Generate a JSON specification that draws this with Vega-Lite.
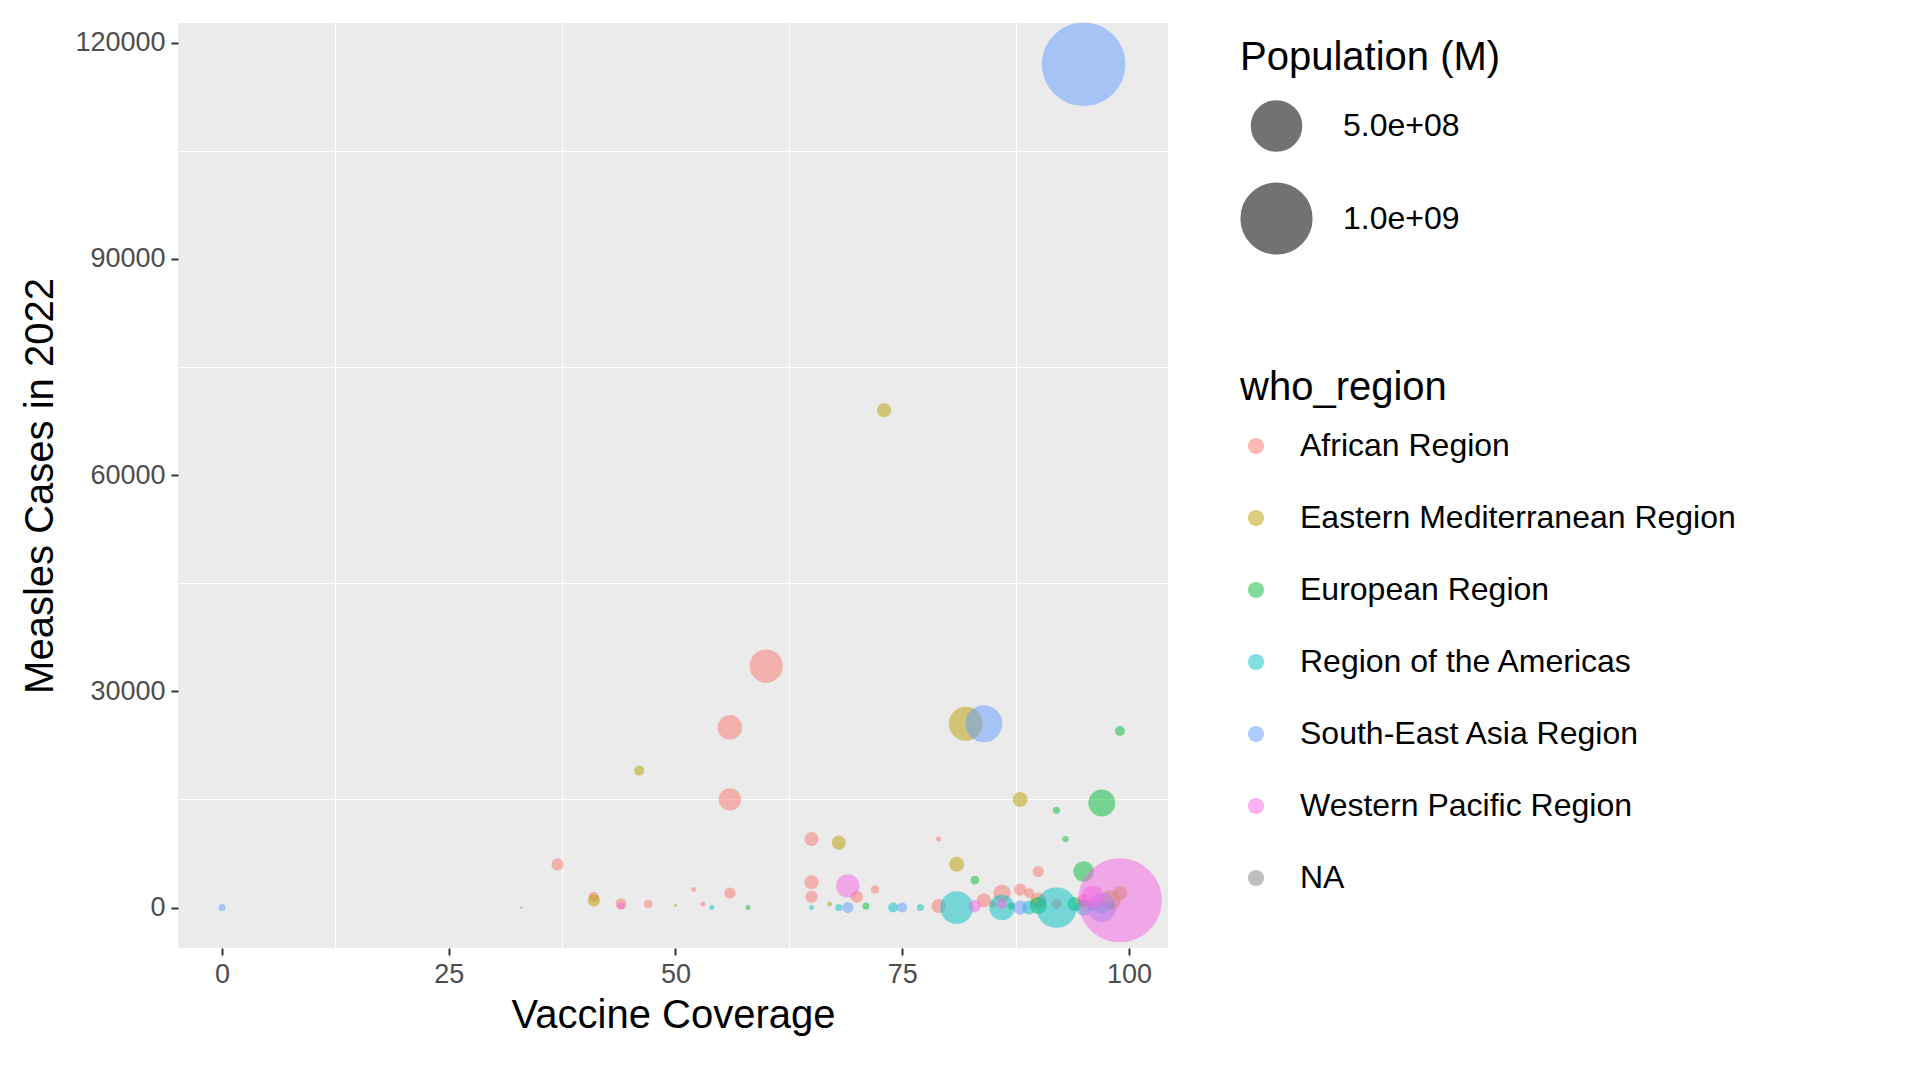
{
  "$schema": "https://vega.github.io/schema/vega-lite/v6.json",
  "width": 990,
  "height": 925,
  "padding": {"left": 20, "top": 22, "right": 10, "bottom": 10},
  "background": "white",
  "config": {
    "font": "Liberation Sans",
    "view": {"fill": "#EBEBEB", "stroke": null},
    "axis": {
      "gridColor": "white", "gridWidth": 2.4, "domain": false,
      "tickColor": "#333333", "tickSize": 7, "tickWidth": 2,
      "labelColor": "#4D4D4D", "labelFontSize": 27, "labelPadding": 6,
      "titleColor": "black", "titleFontSize": 40, "titleFontWeight": "normal"
    },
    "legend": {
      "titleFontSize": 40, "titleFontWeight": "normal", "titleColor": "black",
      "labelFontSize": 32, "labelColor": "black", "titlePadding": 22,
      "labelLimit": 0, "titleLimit": 0
    }
  },
  "data": {
    "values": [
      {"cov": 37, "cases": 6000, "pop": 30, "region": "African Region"},
      {"cov": 41, "cases": 1500, "pop": 20, "region": "African Region"},
      {"cov": 44, "cases": 500, "pop": 25, "region": "African Region"},
      {"cov": 47, "cases": 500, "pop": 15, "region": "African Region"},
      {"cov": 52, "cases": 2500, "pop": 5, "region": "African Region"},
      {"cov": 53, "cases": 500, "pop": 5, "region": "African Region"},
      {"cov": 56, "cases": 2000, "pop": 25, "region": "African Region"},
      {"cov": 56, "cases": 25000, "pop": 120, "region": "African Region"},
      {"cov": 56, "cases": 15000, "pop": 100, "region": "African Region"},
      {"cov": 60, "cases": 33500, "pop": 220, "region": "African Region"},
      {"cov": 65, "cases": 9500, "pop": 40, "region": "African Region"},
      {"cov": 65, "cases": 3500, "pop": 40, "region": "African Region"},
      {"cov": 65, "cases": 1500, "pop": 30, "region": "African Region"},
      {"cov": 70, "cases": 1500, "pop": 30, "region": "African Region"},
      {"cov": 72, "cases": 2500, "pop": 15, "region": "African Region"},
      {"cov": 79, "cases": 9500, "pop": 5, "region": "African Region"},
      {"cov": 79, "cases": 200, "pop": 40, "region": "African Region"},
      {"cov": 84, "cases": 1000, "pop": 40, "region": "African Region"},
      {"cov": 85, "cases": 500, "pop": 10, "region": "African Region"},
      {"cov": 86, "cases": 2000, "pop": 60, "region": "African Region"},
      {"cov": 88, "cases": 2500, "pop": 30, "region": "African Region"},
      {"cov": 89, "cases": 2000, "pop": 20, "region": "African Region"},
      {"cov": 90, "cases": 5000, "pop": 25, "region": "African Region"},
      {"cov": 90, "cases": 1000, "pop": 50, "region": "African Region"},
      {"cov": 92, "cases": 500, "pop": 20, "region": "African Region"},
      {"cov": 95, "cases": 1000, "pop": 30, "region": "African Region"},
      {"cov": 97, "cases": 500, "pop": 10, "region": "African Region"},
      {"cov": 41, "cases": 1000, "pop": 30, "region": "Eastern Mediterranean Region"},
      {"cov": 46, "cases": 19000, "pop": 20, "region": "Eastern Mediterranean Region"},
      {"cov": 50, "cases": 300, "pop": 2, "region": "Eastern Mediterranean Region"},
      {"cov": 67, "cases": 500, "pop": 5, "region": "Eastern Mediterranean Region"},
      {"cov": 68, "cases": 9000, "pop": 40, "region": "Eastern Mediterranean Region"},
      {"cov": 73, "cases": 69000, "pop": 40, "region": "Eastern Mediterranean Region"},
      {"cov": 81, "cases": 6000, "pop": 45, "region": "Eastern Mediterranean Region"},
      {"cov": 82, "cases": 25500, "pop": 230, "region": "Eastern Mediterranean Region"},
      {"cov": 88, "cases": 15000, "pop": 45, "region": "Eastern Mediterranean Region"},
      {"cov": 95, "cases": 500, "pop": 10, "region": "Eastern Mediterranean Region"},
      {"cov": 98, "cases": 1000, "pop": 80, "region": "Eastern Mediterranean Region"},
      {"cov": 99, "cases": 2000, "pop": 40, "region": "Eastern Mediterranean Region"},
      {"cov": 33, "cases": 0, "pop": 1, "region": "European Region"},
      {"cov": 58, "cases": 0, "pop": 5, "region": "European Region"},
      {"cov": 71, "cases": 200, "pop": 10, "region": "European Region"},
      {"cov": 83, "cases": 3800, "pop": 15, "region": "European Region"},
      {"cov": 87, "cases": 200, "pop": 10, "region": "European Region"},
      {"cov": 90, "cases": 300, "pop": 60, "region": "European Region"},
      {"cov": 92, "cases": 13500, "pop": 10, "region": "European Region"},
      {"cov": 93, "cases": 9500, "pop": 8, "region": "European Region"},
      {"cov": 94, "cases": 500, "pop": 40, "region": "European Region"},
      {"cov": 95, "cases": 5000, "pop": 85, "region": "European Region"},
      {"cov": 96, "cases": 200, "pop": 20, "region": "European Region"},
      {"cov": 97, "cases": 14500, "pop": 145, "region": "European Region"},
      {"cov": 98, "cases": 300, "pop": 10, "region": "European Region"},
      {"cov": 99, "cases": 24500, "pop": 20, "region": "European Region"},
      {"cov": 54, "cases": 0, "pop": 5, "region": "Region of the Americas"},
      {"cov": 65, "cases": 0, "pop": 5, "region": "Region of the Americas"},
      {"cov": 68, "cases": 0, "pop": 10, "region": "Region of the Americas"},
      {"cov": 74, "cases": 0, "pop": 20, "region": "Region of the Americas"},
      {"cov": 77, "cases": 0, "pop": 10, "region": "Region of the Americas"},
      {"cov": 81, "cases": 0, "pop": 215, "region": "Region of the Americas"},
      {"cov": 86, "cases": 0, "pop": 130, "region": "Region of the Americas"},
      {"cov": 89, "cases": 0, "pop": 40, "region": "Region of the Americas"},
      {"cov": 92, "cases": 0, "pop": 330, "region": "Region of the Americas"},
      {"cov": 95, "cases": 0, "pop": 50, "region": "Region of the Americas"},
      {"cov": 97, "cases": 0, "pop": 30, "region": "Region of the Americas"},
      {"cov": 0, "cases": 0, "pop": 10, "region": "South-East Asia Region"},
      {"cov": 69, "cases": 0, "pop": 25, "region": "South-East Asia Region"},
      {"cov": 75, "cases": 0, "pop": 20, "region": "South-East Asia Region"},
      {"cov": 84, "cases": 25500, "pop": 275, "region": "South-East Asia Region"},
      {"cov": 88, "cases": 0, "pop": 40, "region": "South-East Asia Region"},
      {"cov": 95, "cases": 117000, "pop": 1400, "region": "South-East Asia Region"},
      {"cov": 97, "cases": 0, "pop": 170, "region": "South-East Asia Region"},
      {"cov": 44, "cases": 200, "pop": 10, "region": "Western Pacific Region"},
      {"cov": 69, "cases": 3000, "pop": 110, "region": "Western Pacific Region"},
      {"cov": 83, "cases": 200, "pop": 30, "region": "Western Pacific Region"},
      {"cov": 86, "cases": 500, "pop": 20, "region": "Western Pacific Region"},
      {"cov": 96, "cases": 1500, "pop": 100, "region": "Western Pacific Region"},
      {"cov": 99, "cases": 1000, "pop": 1410, "region": "Western Pacific Region"}
    ]
  },
  "transform": [{"calculate": "datum.pop * 1000000", "as": "population"}],
  "layer": [
    {
      "mark": {"type": "point", "filled": true, "opacity": 0},
      "encoding": {
        "x": {"field": "cov", "type": "quantitative", "scale": {"domain": [-4.85, 104.3], "nice": false, "zero": false},
              "axis": {"orient": "bottom", "values": [12.5, 37.5, 62.5, 87.5], "labels": false, "ticks": false, "gridWidth": 1.2, "title": null}},
        "y": {"field": "cases", "type": "quantitative", "scale": {"domain": [-5610, 122720], "nice": false},
              "axis": {"orient": "left", "values": [15000, 45000, 75000, 105000], "labels": false, "ticks": false, "gridWidth": 1.2, "title": null}}
      }
    },
    {
      "mark": {"type": "circle", "opacity": 0.5},
      "encoding": {
        "x": {"field": "cov", "type": "quantitative", "title": "Vaccine Coverage",
              "axis": {"orient": "bottom", "values": [0, 25, 50, 75, 100], "titlePadding": 8}},
        "y": {"field": "cases", "type": "quantitative", "title": "Measles Cases in 2022",
              "axis": {"orient": "left", "values": [0, 30000, 60000, 90000, 120000], "format": "d", "titlePadding": 14}},
        "color": {"field": "region", "type": "nominal", "title": "who_region",
                  "scale": {"domain": ["African Region", "Eastern Mediterranean Region", "European Region", "Region of the Americas", "South-East Asia Region", "Western Pacific Region", "NA"],
                            "range": ["#F8766D", "#B79F00", "#00BA38", "#00BFC4", "#619CFF", "#F564E3", "#7F7F7F"]},
                  "legend": {"orient": "none", "legendX": 1062, "legendY": 345, "symbolSize": 260, "symbolOpacity": 0.5, "symbolType": "circle", "labelOffset": 28, "rowPadding": 40}},
        "size": {"field": "population", "type": "quantitative", "title": "Population (M)",
                 "scale": {"domain": [0, 1400000000], "range": [0, 7000]},
                 "legend": {"orient": "none", "legendX": 1062, "legendY": 15, "values": [500000000, 1000000000], "labelExpr": "datum.value == 500000000 ? '5.0e+08' : '1.0e+09'", "symbolFillColor": "#000", "symbolOpacity": 0.55, "symbolStrokeColor": "#000", "symbolStrokeWidth": 1.5, "labelOffset": 30, "rowPadding": 26}}
      }
    }
  ],
  "resolve": {"axis": {"x": "independent", "y": "independent"}}
}
